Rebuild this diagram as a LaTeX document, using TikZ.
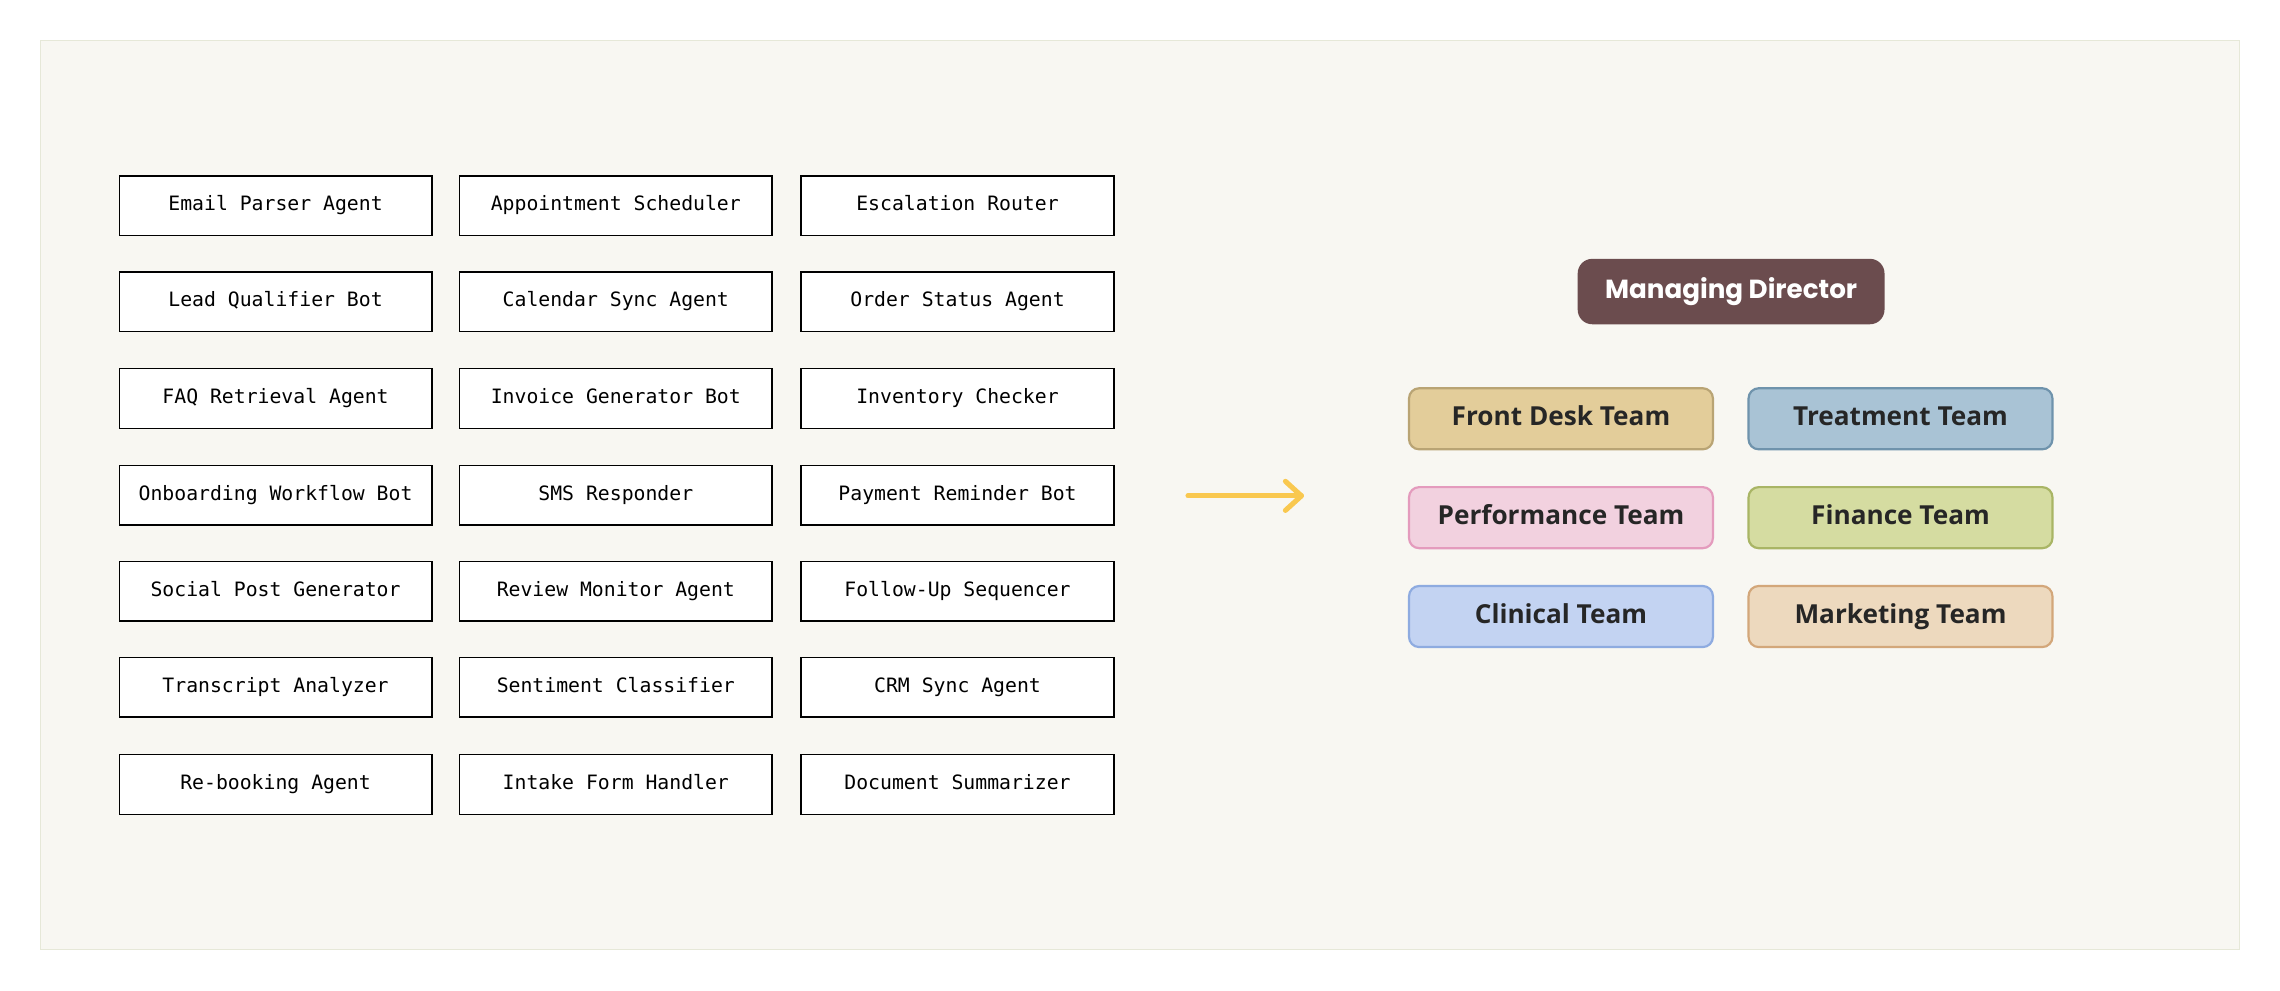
\documentclass[tikz,border=0pt]{standalone}
\usepackage{fontspec}
\setmainfont{Open Sans}
\newfontfamily\monof{DejaVu Sans Mono}
\newfontfamily\popf{Poppins}
\definecolor{bg}{HTML}{F8F7F2}
\definecolor{bgb}{HTML}{E6E8D8}
\definecolor{arr}{HTML}{F9C84F}
\definecolor{md}{HTML}{6B4C4E}
\definecolor{f1}{HTML}{E3CD9A}\definecolor{d1}{HTML}{B9A474}
\definecolor{f2}{HTML}{A9C3D5}\definecolor{d2}{HTML}{6F93AC}
\definecolor{f3}{HTML}{F2D1DF}\definecolor{d3}{HTML}{E49BBD}
\definecolor{f4}{HTML}{D5DCA1}\definecolor{d4}{HTML}{A9B565}
\definecolor{f5}{HTML}{C3D3F2}\definecolor{d5}{HTML}{8EABE0}
\definecolor{f6}{HTML}{EDD9BE}\definecolor{d6}{HTML}{D3A77A}
\begin{document}
\begin{tikzpicture}[x=1pt,y=-1pt,
 agent/.style={draw=black,line width=1pt,fill=white,minimum width=215pt,minimum height=41pt,inner sep=0pt,text height=9.5pt,text depth=2.5pt,font=\monof\fontsize{13.6}{15}\selectfont},
 team/.style={rounded corners=7pt,line width=1.5pt,minimum width=209pt,minimum height=42pt,inner sep=0pt,text height=13pt,text depth=4pt,font=\bfseries\fontsize{18}{21}\selectfont,text=black!85}]
\useasboundingbox (0,0) rectangle (1568,681);
\draw[bgb,fill=bg] (28,28) rectangle (1540,653);
\def\ys{{141.5,207.5,274,340.5,406.5,472.5,539.5}}
\foreach \t [count=\i] in {Email Parser Agent,Lead Qualifier Bot,FAQ Retrieval Agent,Onboarding Workflow Bot,Social Post Generator,Transcript Analyzer,Re-booking Agent}
 {\pgfmathsetmacro\yy{\ys[\i-1]}\node[agent] (a\i) at (189.5,\yy) {\t};}
\foreach \t [count=\i] in {Appointment Scheduler,Calendar Sync Agent,Invoice Generator Bot,SMS Responder,Review Monitor Agent,Sentiment Classifier,Intake Form Handler}
 {\pgfmathsetmacro\yy{\ys[\i-1]}\node[agent] (b\i) at (423.5,\yy) {\t};}
\foreach \t [count=\i] in {Escalation Router,Order Status Agent,Inventory Checker,Payment Reminder Bot,Follow-Up Sequencer,CRM Sync Agent,Document Summarizer}
 {\pgfmathsetmacro\yy{\ys[\i-1]}\node[agent] (c\i) at (658.5,\yy) {\t};}
\coordinate (p1) at (817,341); \coordinate (p2) at (895,341);
\draw[arr,line width=3.5pt,line cap=round,line join=round] (p1) -- (p2);
\draw[arr,line width=3.5pt,line cap=round,line join=round] (884,331) -- (p2) -- (884,351);
\node[fill=md,rounded corners=10pt,minimum width=211pt,minimum height=45pt,inner sep=0pt,text height=13pt,text depth=4pt,text=white,font=\popf\bfseries\fontsize{18}{21}\selectfont] (md) at (1190.5,200.5) {Managing Director};
\node[team,draw=d1,fill=f1] (t1) at (1073.5,288) {Front Desk Team};
\node[team,draw=d2,fill=f2] (t2) at (1307,288) {Treatment Team};
\node[team,draw=d3,fill=f3] (t3) at (1073.5,356) {Performance Team};
\node[team,draw=d4,fill=f4] (t4) at (1307,356) {Finance Team};
\node[team,draw=d5,fill=f5] (t5) at (1073.5,424) {Clinical Team};
\node[team,draw=d6,fill=f6] (t6) at (1307,424) {Marketing Team};
\end{tikzpicture}
\end{document}
